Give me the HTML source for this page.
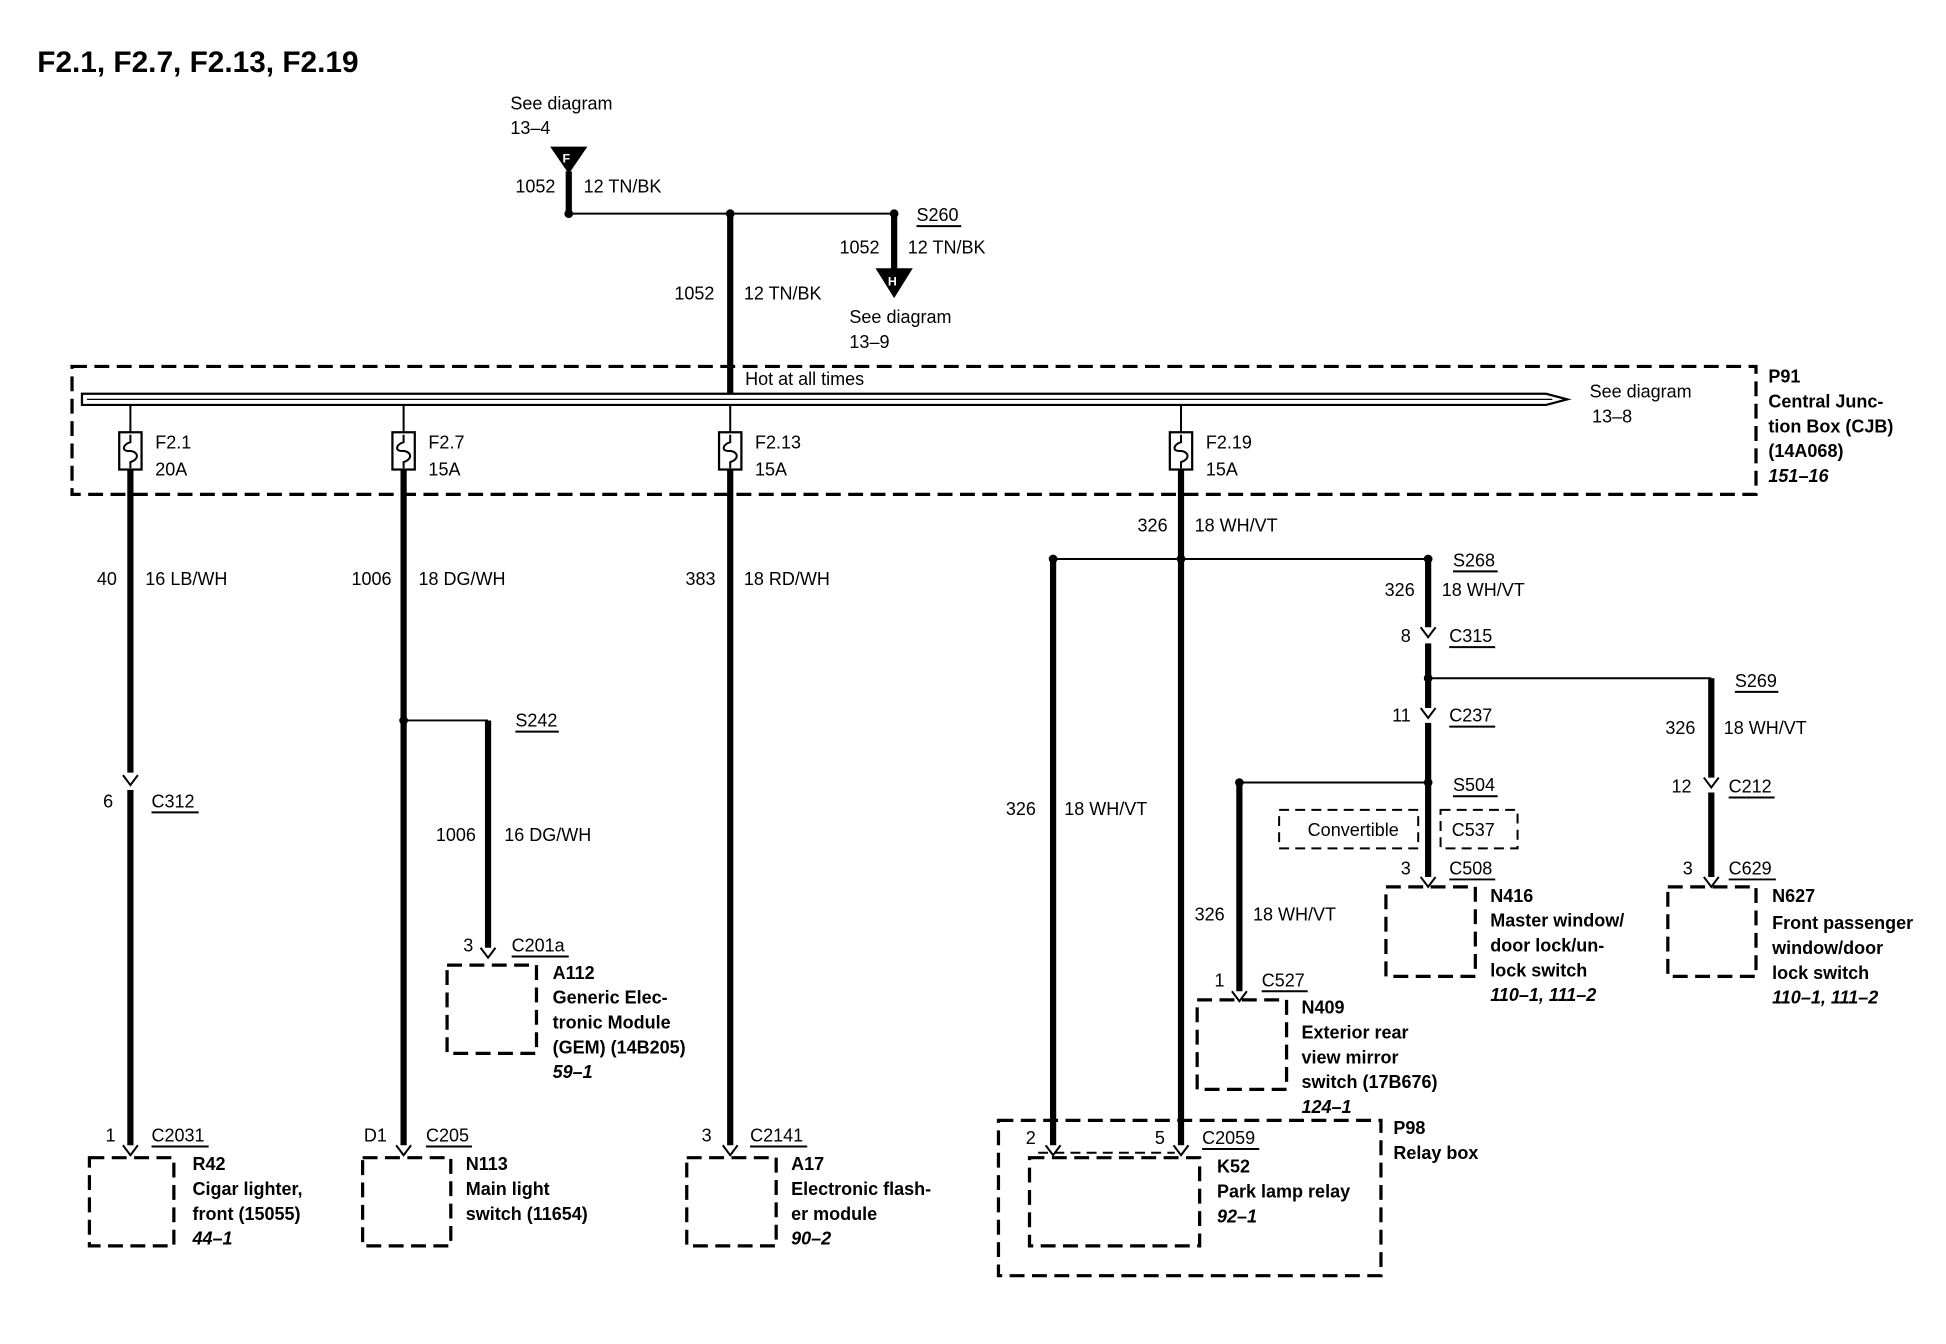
<!DOCTYPE html>
<html><head><meta charset="utf-8"><style>
html,body{margin:0;padding:0;background:#fff;}
svg{display:block;}
text{font-family:"Liberation Sans",Arial,sans-serif;font-size:14.5px;fill:#000;}
.b{font-weight:bold;}
.i{font-style:italic;font-weight:bold;}
.w{stroke:#000;stroke-width:5;fill:none;}
.t{stroke:#000;stroke-width:1.6;fill:none;}
.d{stroke:#000;stroke-width:2.6;fill:none;stroke-dasharray:12,6;}
</style></head><body>
<svg width="1946" height="1344" viewBox="0 0 1567 1082" preserveAspectRatio="none" xmlns="http://www.w3.org/2000/svg">
<rect width="1570" height="1090" fill="#fff"/>
<text x="30" y="58" class="b" style="font-size:24px">F2.1, F2.7, F2.13, F2.19</text>

<text x="411" y="88">See diagram</text><text x="411" y="108">13–4</text>
<polygon points="443,118 473,118 458,140" fill="#000"/><text x="453" y="131" style="font-size:10px;fill:#fff" class="b">F</text>
<line class="w" x1="458" y1="138" x2="458" y2="172"/>
<text x="415" y="155">1052</text><text x="470" y="155">12 TN/BK</text>
<line class="t" x1="458" y1="172" x2="720" y2="172"/>
<circle cx="458" cy="172" r="3.5"/><circle cx="588" cy="172" r="3.5"/><circle cx="720" cy="172" r="3.5"/>
<text x="738" y="178">S260</text><line class="t" x1="738" y1="182" x2="774" y2="182"/>
<line class="w" x1="720" y1="172" x2="720" y2="218"/>
<polygon points="705,216 735,216 720,240" fill="#000"/><text x="715" y="230" style="font-size:10px;fill:#fff" class="b">H</text>
<text x="676" y="204">1052</text><text x="731" y="204">12 TN/BK</text>
<text x="684" y="260">See diagram</text><text x="684" y="280">13–9</text>
<line class="w" x1="588" y1="172" x2="588" y2="318"/>
<text x="543" y="241">1052</text><text x="599" y="241">12 TN/BK</text>

<rect class="d" x="58" y="295" width="1356" height="103"/>
<text x="600" y="310">Hot at all times</text>
<path d="M66,317 L1245,317 L1262,321.5 L1245,326 L66,326 Z" fill="#fff" stroke="#000" stroke-width="1.8"/>
<line x1="70" y1="321.5" x2="1250" y2="321.5" stroke="#000" stroke-width="1"/>
<text x="1280" y="320">See diagram</text><text x="1282" y="340">13–8</text>
<text x="1424" y="308" class="b">P91</text>
<text x="1424" y="328" class="b">Central Junc-</text>
<text x="1424" y="348" class="b">tion Box (CJB)</text>
<text x="1424" y="368" class="b">(14A068)</text>
<text x="1424" y="388" class="i">151–16</text>

<g transform="translate(105,0)"><line class="t" x1="0" y1="326" x2="0" y2="348"/><rect x="-9" y="348" width="18" height="30" fill="#fff" stroke="#000" stroke-width="1.8"/><path d="M0,350 L0,356 C-7,358 -7,364 0,363 C7,364 7,370 0,372 L0,377" class="t"/></g>
<g transform="translate(325,0)"><line class="t" x1="0" y1="326" x2="0" y2="348"/><rect x="-9" y="348" width="18" height="30" fill="#fff" stroke="#000" stroke-width="1.8"/><path d="M0,350 L0,356 C-7,358 -7,364 0,363 C7,364 7,370 0,372 L0,377" class="t"/></g>
<g transform="translate(588,0)"><line class="t" x1="0" y1="326" x2="0" y2="348"/><rect x="-9" y="348" width="18" height="30" fill="#fff" stroke="#000" stroke-width="1.8"/><path d="M0,350 L0,356 C-7,358 -7,364 0,363 C7,364 7,370 0,372 L0,377" class="t"/></g>
<g transform="translate(951,0)"><line class="t" x1="0" y1="326" x2="0" y2="348"/><rect x="-9" y="348" width="18" height="30" fill="#fff" stroke="#000" stroke-width="1.8"/><path d="M0,350 L0,356 C-7,358 -7,364 0,363 C7,364 7,370 0,372 L0,377" class="t"/></g>
<text x="125" y="361">F2.1</text><text x="125" y="383">20A</text>
<text x="345" y="361">F2.7</text><text x="345" y="383">15A</text>
<text x="608" y="361">F2.13</text><text x="608" y="383">15A</text>
<text x="971" y="361">F2.19</text><text x="971" y="383">15A</text>

<line class="w" x1="105" y1="378" x2="105" y2="622"/>
<line class="w" x1="105" y1="636" x2="105" y2="922"/>
<path class="t" d="M99,624 L105,632 L111,624 M99,922 L105,930 L111,922"/>
<text x="78" y="471">40</text><text x="117" y="471">16 LB/WH</text>
<text x="83" y="650">6</text><text x="122" y="650">C312</text><line class="t" x1="122" y1="654" x2="160" y2="654"/>
<text x="85" y="919">1</text><text x="122" y="919">C2031</text><line class="t" x1="122" y1="923" x2="168" y2="923"/>
<rect class="d" x="72" y="932" width="68" height="71"/>
<text x="155" y="942" class="b">R42</text><text x="155" y="962" class="b">Cigar lighter,</text><text x="155" y="982" class="b">front (15055)</text><text x="155" y="1002" class="i">44–1</text>

<line class="w" x1="325" y1="378" x2="325" y2="922"/>
<path class="t" d="M319,922 L325,930 L331,922"/>
<text x="283" y="471">1006</text><text x="337" y="471">18 DG/WH</text>
<circle cx="325" cy="580" r="3.5"/><line class="t" x1="325" y1="580" x2="393" y2="580"/>
<line class="w" x1="393" y1="580" x2="393" y2="763"/><path class="t" d="M387,763 L393,771 L399,763"/>
<text x="415" y="585">S242</text><line class="t" x1="415" y1="589" x2="450" y2="589"/>
<text x="351" y="677">1006</text><text x="406" y="677">16 DG/WH</text>
<text x="373" y="766">3</text><text x="412" y="766">C201a</text><line class="t" x1="412" y1="770" x2="458" y2="770"/>
<rect class="d" x="360" y="777" width="72" height="71"/>
<text x="445" y="788" class="b">A112</text><text x="445" y="808" class="b">Generic Elec-</text><text x="445" y="828" class="b">tronic Module</text><text x="445" y="848" class="b">(GEM) (14B205)</text><text x="445" y="868" class="i">59–1</text>
<text x="293" y="919">D1</text><text x="343" y="919">C205</text><line class="t" x1="343" y1="923" x2="380" y2="923"/>
<rect class="d" x="292" y="932" width="71" height="71"/>
<text x="375" y="942" class="b">N113</text><text x="375" y="962" class="b">Main light</text><text x="375" y="982" class="b">switch (11654)</text>

<line class="w" x1="588" y1="378" x2="588" y2="922"/><path class="t" d="M582,922 L588,930 L594,922"/>
<text x="552" y="471">383</text><text x="599" y="471">18 RD/WH</text>
<text x="565" y="919">3</text><text x="604" y="919">C2141</text><line class="t" x1="604" y1="923" x2="650" y2="923"/>
<rect class="d" x="553" y="932" width="72" height="71"/>
<text x="637" y="942" class="b">A17</text><text x="637" y="962" class="b">Electronic flash-</text><text x="637" y="982" class="b">er module</text><text x="637" y="1002" class="i">90–2</text>

<line class="w" x1="951" y1="378" x2="951" y2="922"/><path class="t" d="M945,922 L951,930 L957,922"/>
<text x="916" y="428">326</text><text x="962" y="428">18 WH/VT</text>
<line class="t" x1="848" y1="450" x2="1150" y2="450"/>
<circle cx="848" cy="450" r="3.5"/><circle cx="951" cy="450" r="3.5"/><circle cx="1150" cy="450" r="3.5"/>
<line class="w" x1="848" y1="450" x2="848" y2="922"/><path class="t" d="M842,922 L848,930 L854,922"/>
<text x="810" y="656">326</text><text x="857" y="656">18 WH/VT</text>
<text x="1170" y="456">S268</text><line class="t" x1="1170" y1="460" x2="1206" y2="460"/>
<line class="w" x1="1150" y1="450" x2="1150" y2="505"/><path class="t" d="M1144,505 L1150,513 L1156,505"/>
<line class="w" x1="1150" y1="518" x2="1150" y2="570"/><path class="t" d="M1144,570 L1150,578 L1156,570"/>
<line class="w" x1="1150" y1="582" x2="1150" y2="706"/><path class="t" d="M1144,706 L1150,714 L1156,706"/>
<text x="1115" y="480">326</text><text x="1161" y="480">18 WH/VT</text>
<text x="1128" y="517">8</text><text x="1167" y="517">C315</text><line class="t" x1="1167" y1="521" x2="1204" y2="521"/>
<circle cx="1150" cy="546" r="3.5"/><line class="t" x1="1150" y1="546" x2="1378" y2="546"/>
<text x="1397" y="553">S269</text><line class="t" x1="1397" y1="557" x2="1432" y2="557"/>
<text x="1121" y="581">11</text><text x="1167" y="581">C237</text><line class="t" x1="1167" y1="585" x2="1204" y2="585"/>
<circle cx="1150" cy="630" r="3.5"/><circle cx="998" cy="630" r="3.5"/><line class="t" x1="998" y1="630" x2="1150" y2="630"/>
<text x="1170" y="637">S504</text><line class="t" x1="1170" y1="641" x2="1206" y2="641"/>
<line class="w" x1="998" y1="630" x2="998" y2="798"/><path class="t" d="M992,798 L998,806 L1004,798"/>
<text x="962" y="741">326</text><text x="1009" y="741">18 WH/VT</text>
<text x="978" y="794">1</text><text x="1016" y="794">C527</text><line class="t" x1="1016" y1="798" x2="1053" y2="798"/>
<rect class="d" x="964" y="805" width="72" height="72"/>
<text x="1048" y="816" class="b">N409</text><text x="1048" y="836" class="b">Exterior rear</text><text x="1048" y="856" class="b">view mirror</text><text x="1048" y="876" class="b">switch (17B676)</text><text x="1048" y="896" class="i">124–1</text>
<rect x="1030" y="652" width="112" height="31" fill="none" stroke="#000" stroke-width="1.6" stroke-dasharray="8,5"/>
<text x="1053" y="673">Convertible</text>
<rect x="1160" y="652" width="62" height="31" fill="none" stroke="#000" stroke-width="1.6" stroke-dasharray="8,5"/>
<text x="1169" y="673">C537</text>
<text x="1128" y="704">3</text><text x="1167" y="704">C508</text><line class="t" x1="1167" y1="708" x2="1204" y2="708"/>
<rect class="d" x="1116" y="714" width="72" height="72"/>
<text x="1200" y="726" class="b">N416</text><text x="1200" y="746" class="b">Master window/</text><text x="1200" y="766" class="b">door lock/un-</text><text x="1200" y="786" class="b">lock switch</text><text x="1200" y="806" class="i">110–1, 111–2</text>
<line class="w" x1="1378" y1="546" x2="1378" y2="626"/><path class="t" d="M1372,626 L1378,634 L1384,626"/>
<line class="w" x1="1378" y1="638" x2="1378" y2="706"/><path class="t" d="M1372,706 L1378,714 L1384,706"/>
<text x="1341" y="591">326</text><text x="1388" y="591">18 WH/VT</text>
<text x="1346" y="638">12</text><text x="1392" y="638">C212</text><line class="t" x1="1392" y1="642" x2="1429" y2="642"/>
<text x="1355" y="704">3</text><text x="1392" y="704">C629</text><line class="t" x1="1392" y1="708" x2="1430" y2="708"/>
<rect class="d" x="1343" y="714" width="71" height="72"/>
<text x="1427" y="726" class="b">N627</text><text x="1427" y="748" class="b">Front passenger</text><text x="1427" y="768" class="b">window/door</text><text x="1427" y="788" class="b">lock switch</text><text x="1427" y="808" class="i">110–1, 111–2</text>

<rect class="d" x="804" y="902" width="308" height="125"/>
<text x="1122" y="913" class="b">P98</text><text x="1122" y="933" class="b">Relay box</text>
<text x="826" y="921">2</text><text x="930" y="921">5</text><text x="968" y="921">C2059</text><line class="t" x1="968" y1="925" x2="1014" y2="925"/>
<line x1="836" y1="928" x2="946" y2="928" stroke="#000" stroke-width="1.6" stroke-dasharray="8,5"/>
<rect class="d" x="829" y="932" width="137" height="71"/>
<text x="980" y="944" class="b">K52</text><text x="980" y="964" class="b">Park lamp relay</text><text x="980" y="984" class="i">92–1</text>
</svg>
</body></html>
